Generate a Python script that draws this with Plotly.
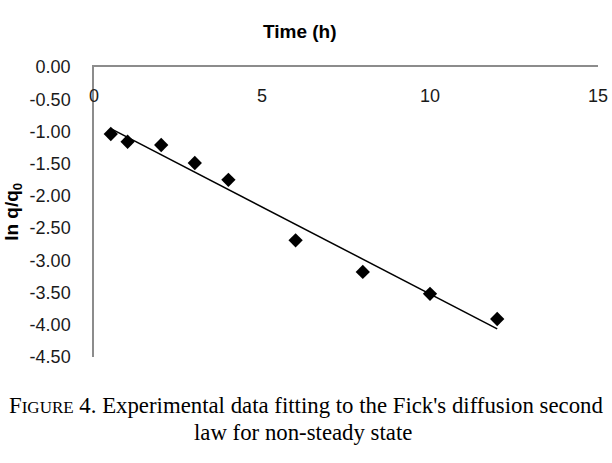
import numpy as np
import plotly.graph_objects as go

# time (h) and ln(q/q0)
time_h = [0.5, 1, 2, 3, 4, 6, 8, 10, 12]
ln_q_q0 = [-1.04, -1.16, -1.21, -1.49, -1.75, -2.69, -3.18, -3.52, -3.91]

x_ticks = [0, 5, 10, 15]
y_ticks = [0, -0.5, -1, -1.5, -2, -2.5, -3, -3.5, -4, -4.5]
y_tick_text = ["%.2f" % v for v in y_ticks]

x_title = "<b>Time (h)</b>"
y_title = "<b>ln q/q<sub>0</sub></b>"
caption_1 = "F<span style='font-size:17px'>IGURE</span> 4. Experimental data fitting to the Fick's diffusion second"
caption_2 = "law for non-steady state"

# linear trendline (least squares)
slope, intercept = np.polyfit(time_h, ln_q_q0, 1)
fit_x = [min(time_h), max(time_h)]
fit_y = [slope * t + intercept for t in fit_x]

fig = go.Figure()
fig.add_trace(go.Scatter(x=fit_x, y=fit_y, mode="lines",
                         line=dict(color="black", width=1.5),
                         showlegend=False, hoverinfo="skip"))
fig.add_trace(go.Scatter(x=time_h, y=ln_q_q0, mode="markers",
                         marker=dict(symbol="diamond", size=11, color="black"),
                         showlegend=False))
# invisible trace so xaxis2 (the tick labels under the top line) is drawn
fig.add_trace(go.Scatter(x=[None], y=[None], xaxis="x2", showlegend=False,
                         hoverinfo="skip"))

cap_font = dict(family="Liberation Serif, Times New Roman", size=22.8, color="black")
title_font = dict(family="Liberation Sans, Arial", size=19, color="black")

fig.update_layout(
    width=612, height=463,
    margin=dict(l=94, r=14, t=67, b=106),
    paper_bgcolor="white", plot_bgcolor="white",
    font=dict(family="Liberation Sans, Arial", size=18, color="#1a1a1a"),
    # x axis crosses at y=0 (top of the plot)
    xaxis=dict(
        range=[0, 15], side="top", tickvals=x_ticks, showticklabels=False,
        showgrid=False, zeroline=False, automargin=False,
        showline=True, linecolor="#8c8c8c", linewidth=1.5, ticks="",
    ),
    xaxis2=dict(
        range=[0, 15], overlaying="x", anchor="free", position=0.868,
        side="top", tickvals=x_ticks, showgrid=False, zeroline=False,
        showline=False, ticks="", automargin=False, tickfont=dict(size=18),
    ),
    yaxis=dict(
        range=[-4.5, 0], tickvals=y_ticks, ticktext=y_tick_text,
        showgrid=False, zeroline=False, automargin=False,
        showline=True, linecolor="#8c8c8c", linewidth=1.5,
        ticks="outside", ticklen=18, tickcolor="rgba(0,0,0,0)",
        tickfont=dict(size=18),
    ),
    annotations=[
        dict(text=x_title, xref="paper", yref="paper", x=0.409, y=1.121,
             xanchor="center", yanchor="middle", showarrow=False, font=title_font),
        dict(text=y_title, xref="paper", yref="paper", x=-0.161, y=0.5,
             xanchor="center", yanchor="middle", textangle=-90,
             showarrow=False, font=title_font),
        dict(text=caption_1, xref="paper", yref="paper", x=0.42, y=-0.168,
             xanchor="center", yanchor="middle", showarrow=False, font=cap_font),
        dict(text=caption_2, xref="paper", yref="paper", x=0.414, y=-0.262,
             xanchor="center", yanchor="middle", showarrow=False, font=cap_font),
    ],
)

# drop the default 8px body margin so the figure fills the window
fig.write_html("out.html", config={"displayModeBar": False},
               post_script="document.body.style.margin='0';")
